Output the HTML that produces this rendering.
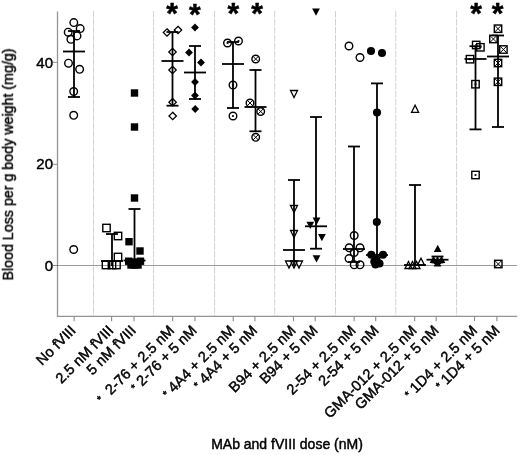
<!DOCTYPE html>
<html><head><meta charset="utf-8"><title>Blood loss</title><style>html,body{margin:0;padding:0;background:#fff}</style></head><body>
<svg width="520" height="455" viewBox="0 0 520 455" style="display:block;font-family:'Liberation Sans',sans-serif">
<defs><filter id="soft" x="0" y="0" width="100%" height="100%" filterUnits="objectBoundingBox"><feGaussianBlur stdDeviation="0.4"/></filter></defs>
<style>text{stroke:#000;stroke-width:0.45;paint-order:stroke fill}</style>
<rect width="520" height="455" fill="#fff"/>
<g filter="url(#soft)">
<rect width="520" height="455" fill="#fff"/>
<line x1="93.5" y1="11" x2="93.5" y2="316" stroke="#d2d2d2" stroke-width="1" stroke-dasharray="6.8 1.2"/>
<line x1="153.6" y1="11" x2="153.6" y2="316" stroke="#d2d2d2" stroke-width="1" stroke-dasharray="6.8 1.2"/>
<line x1="214.6" y1="11" x2="214.6" y2="316" stroke="#d2d2d2" stroke-width="1" stroke-dasharray="6.8 1.2"/>
<line x1="274.7" y1="11" x2="274.7" y2="316" stroke="#d2d2d2" stroke-width="1" stroke-dasharray="6.8 1.2"/>
<line x1="335.5" y1="11" x2="335.5" y2="316" stroke="#d2d2d2" stroke-width="1" stroke-dasharray="6.8 1.2"/>
<line x1="395.8" y1="11" x2="395.8" y2="316" stroke="#d2d2d2" stroke-width="1" stroke-dasharray="6.8 1.2"/>
<line x1="456.6" y1="11" x2="456.6" y2="316" stroke="#d2d2d2" stroke-width="1" stroke-dasharray="6.8 1.2"/>
<line x1="57.5" y1="11.5" x2="57.5" y2="316.9" stroke="#939393" stroke-width="1.25"/>
<line x1="56.9" y1="316.3" x2="517.2" y2="316.3" stroke="#939393" stroke-width="1.25"/>
<line x1="53" y1="62.3" x2="57.5" y2="62.3" stroke="#8a8a8a" stroke-width="1"/>
<text x="53" y="68.37" font-size="15" text-anchor="end" fill="#000">40</text>
<line x1="53" y1="164.3" x2="57.5" y2="164.3" stroke="#8a8a8a" stroke-width="1"/>
<text x="53" y="168.92" font-size="15" text-anchor="end" fill="#000">20</text>
<line x1="53" y1="265.5" x2="57.5" y2="265.5" stroke="#8a8a8a" stroke-width="1"/>
<text x="53" y="270.87" font-size="15" text-anchor="end" fill="#000">0</text>
<line x1="57.5" y1="265.5" x2="517.5" y2="265.5" stroke="#3a3a3a" stroke-width="1" stroke-dasharray="1 1"/>
<line x1="74.1" y1="316.3" x2="74.1" y2="321.2" stroke="#8a8a8a" stroke-width="1.1"/>
<line x1="111.6" y1="316.3" x2="111.6" y2="321.2" stroke="#8a8a8a" stroke-width="1.1"/>
<line x1="134.0" y1="316.3" x2="134.0" y2="321.2" stroke="#8a8a8a" stroke-width="1.1"/>
<line x1="172.7" y1="316.3" x2="172.7" y2="321.2" stroke="#8a8a8a" stroke-width="1.1"/>
<line x1="195.0" y1="316.3" x2="195.0" y2="321.2" stroke="#8a8a8a" stroke-width="1.1"/>
<line x1="233.2" y1="316.3" x2="233.2" y2="321.2" stroke="#8a8a8a" stroke-width="1.1"/>
<line x1="254.9" y1="316.3" x2="254.9" y2="321.2" stroke="#8a8a8a" stroke-width="1.1"/>
<line x1="293.5" y1="316.3" x2="293.5" y2="321.2" stroke="#8a8a8a" stroke-width="1.1"/>
<line x1="315.2" y1="316.3" x2="315.2" y2="321.2" stroke="#8a8a8a" stroke-width="1.1"/>
<line x1="354.1" y1="316.3" x2="354.1" y2="321.2" stroke="#8a8a8a" stroke-width="1.1"/>
<line x1="375.7" y1="316.3" x2="375.7" y2="321.2" stroke="#8a8a8a" stroke-width="1.1"/>
<line x1="414.7" y1="316.3" x2="414.7" y2="321.2" stroke="#8a8a8a" stroke-width="1.1"/>
<line x1="436.2" y1="316.3" x2="436.2" y2="321.2" stroke="#8a8a8a" stroke-width="1.1"/>
<line x1="474.5" y1="316.3" x2="474.5" y2="321.2" stroke="#8a8a8a" stroke-width="1.1"/>
<line x1="496.9" y1="316.3" x2="496.9" y2="321.2" stroke="#8a8a8a" stroke-width="1.1"/>
<text transform="translate(76.5,331.5) rotate(-45)" font-size="14.6" text-anchor="end" fill="#000" xml:space="preserve">No fVIII</text>
<text transform="translate(114.25,331.5) rotate(-45)" font-size="14.6" text-anchor="end" fill="#000" xml:space="preserve">2.5 nM fVIII</text>
<text transform="translate(136.75,331.5) rotate(-45)" font-size="14.6" text-anchor="end" fill="#000" xml:space="preserve">5 nM fVIII</text>
<text transform="translate(175.0,331.5) rotate(-45)" font-size="14.6" text-anchor="end" fill="#000" xml:space="preserve"><tspan font-size="10.5" dy="-1.5">*</tspan><tspan dy="1.5">  2-76 + 2.5 nM</tspan></text>
<text transform="translate(197.5,331.5) rotate(-45)" font-size="14.6" text-anchor="end" fill="#000" xml:space="preserve"><tspan font-size="10.5" dy="-1.5">*</tspan><tspan dy="1.5"> 2-76 + 5 nM</tspan></text>
<text transform="translate(235.5,331.5) rotate(-45)" font-size="14.6" text-anchor="end" fill="#000" xml:space="preserve"><tspan font-size="10.5" dy="-1.5">*</tspan><tspan dy="1.5"> 4A4 + 2.5 nM</tspan></text>
<text transform="translate(258.0,331.5) rotate(-45)" font-size="14.6" text-anchor="end" fill="#000" xml:space="preserve"><tspan font-size="10.5" dy="-1.5">*</tspan><tspan dy="1.5"> 4A4 + 5 nM</tspan></text>
<text transform="translate(296.5,331.5) rotate(-45)" font-size="14.6" text-anchor="end" fill="#000" xml:space="preserve">B94 + 2.5 nM</text>
<text transform="translate(318.5,331.5) rotate(-45)" font-size="14.6" text-anchor="end" fill="#000" xml:space="preserve">B94 + 5 nM</text>
<text transform="translate(356.5,331.5) rotate(-45)" font-size="14.6" text-anchor="end" fill="#000" xml:space="preserve">2-54 + 2.5 nM</text>
<text transform="translate(379.5,331.5) rotate(-45)" font-size="14.6" text-anchor="end" fill="#000" xml:space="preserve">2-54 + 5 nM</text>
<text transform="translate(417.5,331.5) rotate(-45)" font-size="14.6" text-anchor="end" fill="#000" xml:space="preserve">GMA-012 + 2.5 nM</text>
<text transform="translate(439.5,331.5) rotate(-45)" font-size="14.6" text-anchor="end" fill="#000" xml:space="preserve">GMA-012 + 5 nM</text>
<text transform="translate(478.0,331.5) rotate(-45)" font-size="14.6" text-anchor="end" fill="#000" xml:space="preserve"><tspan font-size="10.5" dy="-1.5">*</tspan><tspan dy="1.5"> 1D4 + 2.5 nM</tspan></text>
<text transform="translate(500.5,331.5) rotate(-45)" font-size="14.6" text-anchor="end" fill="#000" xml:space="preserve"><tspan font-size="10.5" dy="-1.5">*</tspan><tspan dy="1.5"> 1D4 + 5 nM</tspan></text>
<text x="287" y="449" font-size="14" text-anchor="middle" fill="#000">MAb and fVIII dose (nM)</text>
<text transform="translate(12.9,164.5) rotate(-90)" font-size="14.25" text-anchor="middle" fill="#000">Blood Loss per g body weight (mg/g)</text>
<g stroke="#000" stroke-width="1.8" fill="none">
<line x1="74" y1="31" x2="74" y2="97"/>
<line x1="68.0" y1="31" x2="80.0" y2="31"/>
<line x1="68.0" y1="97" x2="80.0" y2="97"/>
<line x1="63.0" y1="51.5" x2="85.0" y2="51.5"/>
</g>
<circle cx="73.8" cy="22.6" r="3.8" fill="none" stroke="#000" stroke-width="1.4"/>
<circle cx="80.2" cy="28.6" r="3.8" fill="none" stroke="#000" stroke-width="1.4"/>
<circle cx="68.2" cy="32.2" r="3.8" fill="none" stroke="#000" stroke-width="1.4"/>
<circle cx="77" cy="35.9" r="3.8" fill="none" stroke="#000" stroke-width="1.4"/>
<circle cx="70.9" cy="39.3" r="3.8" fill="none" stroke="#000" stroke-width="1.4"/>
<circle cx="68.5" cy="63.2" r="3.8" fill="none" stroke="#000" stroke-width="1.4"/>
<circle cx="79.6" cy="69.3" r="3.8" fill="none" stroke="#000" stroke-width="1.4"/>
<circle cx="73.7" cy="91.5" r="3.8" fill="none" stroke="#000" stroke-width="1.4"/>
<circle cx="73.7" cy="115.3" r="3.8" fill="none" stroke="#000" stroke-width="1.4"/>
<circle cx="73.7" cy="249.5" r="3.8" fill="none" stroke="#000" stroke-width="1.4"/>
<g stroke="#000" stroke-width="1.8" fill="none">
<line x1="112" y1="234" x2="112" y2="266"/>
<line x1="106.0" y1="234" x2="118.0" y2="234"/>
<line x1="101.0" y1="261" x2="123.0" y2="261"/>
</g>
<rect x="102.80" y="224.30" width="7.4" height="7.4" fill="none" stroke="#000" stroke-width="1.4"/>
<rect x="114.30" y="232.30" width="7.4" height="7.4" fill="none" stroke="#000" stroke-width="1.4"/>
<rect x="114.30" y="253.30" width="7.4" height="7.4" fill="none" stroke="#000" stroke-width="1.4"/>
<rect x="102.30" y="261.30" width="7.4" height="7.4" fill="none" stroke="#000" stroke-width="1.4"/>
<rect x="108.30" y="261.30" width="7.4" height="7.4" fill="none" stroke="#000" stroke-width="1.4"/>
<rect x="112.80" y="261.30" width="7.4" height="7.4" fill="none" stroke="#000" stroke-width="1.4"/>
<g stroke="#000" stroke-width="1.8" fill="none">
<line x1="134.5" y1="209" x2="134.5" y2="266"/>
<line x1="128.5" y1="209" x2="140.5" y2="209"/>
<line x1="123.5" y1="260.5" x2="145.5" y2="260.5"/>
</g>
<rect x="130.80" y="89.30" width="7.4" height="7.4" fill="#000"/>
<rect x="130.80" y="123.30" width="7.4" height="7.4" fill="#000"/>
<rect x="130.80" y="194.30" width="7.4" height="7.4" fill="#000"/>
<rect x="125.30" y="238.00" width="7.4" height="7.4" fill="#000"/>
<rect x="136.30" y="247.30" width="7.4" height="7.4" fill="#000"/>
<rect x="125.00" y="257.50" width="7.4" height="7.4" fill="#000"/>
<rect x="136.80" y="257.50" width="7.4" height="7.4" fill="#000"/>
<rect x="130.80" y="258.30" width="7.4" height="7.4" fill="#000"/>
<rect x="127.30" y="261.30" width="7.4" height="7.4" fill="#000"/>
<rect x="134.30" y="261.30" width="7.4" height="7.4" fill="#000"/>
<rect x="130.80" y="261.30" width="7.4" height="7.4" fill="#000"/>
<text x="172" y="22.6" font-size="30" font-weight="bold" text-anchor="middle" fill="#000">*</text>
<g stroke="#000" stroke-width="1.8" fill="none">
<line x1="172.5" y1="32" x2="172.5" y2="105.7"/>
<line x1="166.5" y1="32" x2="178.5" y2="32"/>
<line x1="166.5" y1="105.7" x2="178.5" y2="105.7"/>
<line x1="161.5" y1="61" x2="183.5" y2="61"/>
</g>
<path d="M167 28.8L170.7 32.5L167 36.2L163.3 32.5Z" fill="none" stroke="#000" stroke-width="1.3"/>
<path d="M178 26.3L181.7 30L178 33.7L174.3 30Z" fill="none" stroke="#000" stroke-width="1.3"/>
<path d="M172.5 48.3L176.2 52L172.5 55.7L168.8 52Z" fill="none" stroke="#000" stroke-width="1.3"/>
<path d="M172.5 66.3L176.2 70L172.5 73.7L168.8 70Z" fill="none" stroke="#000" stroke-width="1.3"/>
<path d="M172.6 98.5L176.29999999999998 102.2L172.6 105.9L168.9 102.2Z" fill="none" stroke="#000" stroke-width="1.3"/>
<path d="M172.7 112.3L176.39999999999998 116L172.7 119.7L169.0 116Z" fill="none" stroke="#000" stroke-width="1.3"/>
<text x="194.8" y="24.1" font-size="30" font-weight="bold" text-anchor="middle" fill="#000">*</text>
<g stroke="#000" stroke-width="1.8" fill="none">
<line x1="195" y1="46" x2="195" y2="99"/>
<line x1="189.0" y1="46" x2="201.0" y2="46"/>
<line x1="189.0" y1="99" x2="201.0" y2="99"/>
<line x1="184.0" y1="72.5" x2="206.0" y2="72.5"/>
</g>
<path d="M195 23.6L198.9 27.5L195 31.4L191.1 27.5Z" fill="#000"/>
<path d="M189 48.6L192.9 52.5L189 56.4L185.1 52.5Z" fill="#000"/>
<path d="M201 58.6L204.9 62.5L201 66.4L197.1 62.5Z" fill="#000"/>
<path d="M195 78.1L198.9 82L195 85.9L191.1 82Z" fill="#000"/>
<path d="M195 91.6L198.9 95.5L195 99.4L191.1 95.5Z" fill="#000"/>
<path d="M195.2 105.1L199.1 109L195.2 112.9L191.29999999999998 109Z" fill="#000"/>
<text x="233.4" y="22.6" font-size="30" font-weight="bold" text-anchor="middle" fill="#000">*</text>
<g stroke="#000" stroke-width="1.8" fill="none">
<line x1="233" y1="42" x2="233" y2="108"/>
<line x1="227.0" y1="42" x2="239.0" y2="42"/>
<line x1="227.0" y1="108" x2="239.0" y2="108"/>
<line x1="222.0" y1="64" x2="244.0" y2="64"/>
</g>
<circle cx="227.5" cy="43" r="3.8" fill="none" stroke="#000" stroke-width="1.4"/>
<circle cx="227.5" cy="43" r="1.1" fill="#000"/>
<circle cx="238.5" cy="41" r="3.8" fill="none" stroke="#000" stroke-width="1.4"/>
<circle cx="238.5" cy="41" r="1.1" fill="#000"/>
<circle cx="233" cy="85" r="3.8" fill="none" stroke="#000" stroke-width="1.4"/>
<circle cx="233" cy="85" r="1.1" fill="#000"/>
<circle cx="233" cy="116" r="3.8" fill="none" stroke="#000" stroke-width="1.4"/>
<circle cx="233" cy="116" r="1.1" fill="#000"/>
<text x="257" y="22.6" font-size="30" font-weight="bold" text-anchor="middle" fill="#000">*</text>
<g stroke="#000" stroke-width="1.8" fill="none">
<line x1="255.5" y1="70" x2="255.5" y2="131.3"/>
<line x1="249.5" y1="70" x2="261.5" y2="70"/>
<line x1="249.5" y1="131.3" x2="261.5" y2="131.3"/>
<line x1="244.5" y1="107" x2="266.5" y2="107"/>
</g>
<circle cx="255.7" cy="59" r="3.8" fill="none" stroke="#000" stroke-width="1.4"/>
<path d="M253.01 56.31L258.39 61.69M253.01 61.69L258.39 56.31" stroke="#000" stroke-width="1"/>
<circle cx="250" cy="103" r="3.8" fill="none" stroke="#000" stroke-width="1.4"/>
<path d="M247.31 100.31L252.69 105.69M247.31 105.69L252.69 100.31" stroke="#000" stroke-width="1"/>
<circle cx="260.7" cy="111.5" r="3.8" fill="none" stroke="#000" stroke-width="1.4"/>
<path d="M258.01 108.81L263.39 114.19M258.01 114.19L263.39 108.81" stroke="#000" stroke-width="1"/>
<circle cx="255.7" cy="137.3" r="3.8" fill="none" stroke="#000" stroke-width="1.4"/>
<path d="M253.01 134.61L258.39 139.99M253.01 139.99L258.39 134.61" stroke="#000" stroke-width="1"/>
<g stroke="#000" stroke-width="1.8" fill="none">
<line x1="294" y1="180" x2="294" y2="266"/>
<line x1="288.0" y1="180" x2="300.0" y2="180"/>
<line x1="283.0" y1="250" x2="305.0" y2="250"/>
</g>
<path d="M290.5 90.5L297.5 90.5L294 97.5Z" fill="none" stroke="#000" stroke-width="1.3"/>
<path d="M290.5 205.5L297.5 205.5L294 212.5Z" fill="none" stroke="#000" stroke-width="1.3"/>
<path d="M290.5 230.5L297.5 230.5L294 237.5Z" fill="none" stroke="#000" stroke-width="1.3"/>
<path d="M285.5 261.0L292.5 261.0L289 268.0Z" fill="none" stroke="#000" stroke-width="1.3"/>
<path d="M290.5 261.0L297.5 261.0L294 268.0Z" fill="none" stroke="#000" stroke-width="1.3"/>
<path d="M295.5 261.0L302.5 261.0L299 268.0Z" fill="none" stroke="#000" stroke-width="1.3"/>
<g stroke="#000" stroke-width="1.8" fill="none">
<line x1="316" y1="117" x2="316" y2="248.7"/>
<line x1="310.0" y1="117" x2="322.0" y2="117"/>
<line x1="310.0" y1="248.7" x2="322.0" y2="248.7"/>
<line x1="305.0" y1="226.3" x2="327.0" y2="226.3"/>
</g>
<path d="M312.1 8.4L319.9 8.4L316 15.7Z" fill="#000"/>
<path d="M312.6 217.6L320.4 217.6L316.5 224.89999999999998Z" fill="#000"/>
<path d="M306.40000000000003 221.70000000000002L314.2 221.70000000000002L310.3 229.0Z" fill="#000"/>
<path d="M318.0 233.9L325.79999999999995 233.9L321.9 241.2Z" fill="#000"/>
<path d="M312.6 255.20000000000002L320.4 255.20000000000002L316.5 262.5Z" fill="#000"/>
<g stroke="#000" stroke-width="1.8" fill="none">
<line x1="354" y1="146.5" x2="354" y2="262"/>
<line x1="348.0" y1="146.5" x2="360.0" y2="146.5"/>
<line x1="348.0" y1="262" x2="360.0" y2="262"/>
<line x1="343.0" y1="249" x2="365.0" y2="249"/>
</g>
<circle cx="349" cy="46" r="3.8" fill="none" stroke="#000" stroke-width="1.4"/>
<circle cx="360" cy="57.5" r="3.8" fill="none" stroke="#000" stroke-width="1.4"/>
<circle cx="354.2" cy="235.5" r="3.8" fill="none" stroke="#000" stroke-width="1.4"/>
<circle cx="349.2" cy="247.8" r="3.8" fill="none" stroke="#000" stroke-width="1.4"/>
<circle cx="360" cy="247.8" r="3.8" fill="none" stroke="#000" stroke-width="1.4"/>
<circle cx="354.2" cy="252.5" r="3.8" fill="none" stroke="#000" stroke-width="1.4"/>
<circle cx="349" cy="258.6" r="3.8" fill="none" stroke="#000" stroke-width="1.4"/>
<circle cx="354.2" cy="264.8" r="3.8" fill="none" stroke="#000" stroke-width="1.4"/>
<circle cx="360" cy="264.8" r="3.8" fill="none" stroke="#000" stroke-width="1.4"/>
<g stroke="#000" stroke-width="1.8" fill="none">
<line x1="377" y1="83.4" x2="377" y2="262"/>
<line x1="371.0" y1="83.4" x2="383.0" y2="83.4"/>
<line x1="371.0" y1="262" x2="383.0" y2="262"/>
<line x1="366.0" y1="255" x2="388.0" y2="255"/>
</g>
<circle cx="371" cy="51" r="4.05" fill="#000"/>
<circle cx="382" cy="53" r="4.05" fill="#000"/>
<circle cx="377" cy="112.5" r="4.05" fill="#000"/>
<circle cx="376.8" cy="222" r="4.05" fill="#000"/>
<circle cx="371.3" cy="254.7" r="4.05" fill="#000"/>
<circle cx="383" cy="254.7" r="4.05" fill="#000"/>
<circle cx="376.5" cy="259.5" r="4.05" fill="#000"/>
<circle cx="374.3" cy="261.5" r="4.05" fill="#000"/>
<circle cx="379.5" cy="263.5" r="4.05" fill="#000"/>
<circle cx="375.5" cy="264.5" r="4.05" fill="#000"/>
<g stroke="#000" stroke-width="1.8" fill="none">
<line x1="415" y1="185" x2="415" y2="266"/>
<line x1="409.0" y1="185" x2="421.0" y2="185"/>
<line x1="404.0" y1="265" x2="426.0" y2="265"/>
</g>
<path d="M411.6 112.3L418.6 112.3L415.1 105.3Z" fill="none" stroke="#000" stroke-width="1.3"/>
<path d="M405.0 268.5L412.0 268.5L408.5 261.5Z" fill="none" stroke="#000" stroke-width="1.3"/>
<path d="M409.0 268.5L416.0 268.5L412.5 261.5Z" fill="none" stroke="#000" stroke-width="1.3"/>
<path d="M413.0 268.5L420.0 268.5L416.5 261.5Z" fill="none" stroke="#000" stroke-width="1.3"/>
<path d="M417.5 265.1L424.5 265.1L421 258.1Z" fill="none" stroke="#000" stroke-width="1.3"/>
<g stroke="#000" stroke-width="1.8" fill="none">
<line x1="437.5" y1="256.5" x2="437.5" y2="262.5"/>
<line x1="431.5" y1="256.5" x2="443.5" y2="256.5"/>
<line x1="431.5" y1="262.5" x2="443.5" y2="262.5"/>
<line x1="426.5" y1="259.7" x2="448.5" y2="259.7"/>
</g>
<path d="M433.8 252.0L441.59999999999997 252.0L437.7 244.70000000000002Z" fill="#000"/>
<path d="M429.6 263.1L437.4 263.1L433.5 255.8Z" fill="#000"/>
<path d="M437.6 263.1L445.4 263.1L441.5 255.8Z" fill="#000"/>
<path d="M433.6 264.1L441.4 264.1L437.5 256.8Z" fill="#000"/>
<path d="M433.6 266.6L441.4 266.6L437.5 259.3Z" fill="#000"/>
<text x="476.2" y="22.6" font-size="30" font-weight="bold" text-anchor="middle" fill="#000">*</text>
<g stroke="#000" stroke-width="1.8" fill="none">
<line x1="475.5" y1="46.2" x2="475.5" y2="129.4"/>
<line x1="469.5" y1="46.2" x2="481.5" y2="46.2"/>
<line x1="469.5" y1="129.4" x2="481.5" y2="129.4"/>
<line x1="464.5" y1="59" x2="486.5" y2="59"/>
</g>
<rect x="472.50" y="41.30" width="7.4" height="7.4" fill="none" stroke="#000" stroke-width="1.4"/>
<circle cx="476.2" cy="45" r="1.1" fill="#000"/>
<rect x="476.70" y="43.60" width="7.4" height="7.4" fill="none" stroke="#000" stroke-width="1.4"/>
<circle cx="480.4" cy="47.3" r="1.1" fill="#000"/>
<rect x="466.30" y="55.50" width="7.4" height="7.4" fill="none" stroke="#000" stroke-width="1.4"/>
<circle cx="470" cy="59.2" r="1.1" fill="#000"/>
<rect x="471.80" y="80.50" width="7.4" height="7.4" fill="none" stroke="#000" stroke-width="1.4"/>
<circle cx="475.5" cy="84.2" r="1.1" fill="#000"/>
<rect x="471.80" y="171.30" width="7.4" height="7.4" fill="none" stroke="#000" stroke-width="1.4"/>
<circle cx="475.5" cy="175" r="1.1" fill="#000"/>
<text x="497.6" y="22.6" font-size="30" font-weight="bold" text-anchor="middle" fill="#000">*</text>
<g stroke="#000" stroke-width="1.8" fill="none">
<line x1="498" y1="35.5" x2="498" y2="127"/>
<line x1="492.0" y1="35.5" x2="504.0" y2="35.5"/>
<line x1="492.0" y1="127" x2="504.0" y2="127"/>
<line x1="487.0" y1="56.5" x2="509.0" y2="56.5"/>
</g>
<rect x="494.30" y="25.00" width="7.4" height="7.4" fill="none" stroke="#000" stroke-width="1.4"/>
<path d="M494.30 25.00L501.70 32.40M494.30 32.40L501.70 25.00" stroke="#000" stroke-width="1"/>
<rect x="489.70" y="35.30" width="7.4" height="7.4" fill="none" stroke="#000" stroke-width="1.4"/>
<path d="M489.70 35.30L497.10 42.70M489.70 42.70L497.10 35.30" stroke="#000" stroke-width="1"/>
<rect x="499.70" y="45.80" width="7.4" height="7.4" fill="none" stroke="#000" stroke-width="1.4"/>
<path d="M499.70 45.80L507.10 53.20M499.70 53.20L507.10 45.80" stroke="#000" stroke-width="1"/>
<rect x="494.30" y="59.30" width="7.4" height="7.4" fill="none" stroke="#000" stroke-width="1.4"/>
<path d="M494.30 59.30L501.70 66.70M494.30 66.70L501.70 59.30" stroke="#000" stroke-width="1"/>
<rect x="494.30" y="78.10" width="7.4" height="7.4" fill="none" stroke="#000" stroke-width="1.4"/>
<path d="M494.30 78.10L501.70 85.50M494.30 85.50L501.70 78.10" stroke="#000" stroke-width="1"/>
<rect x="494.60" y="260.30" width="7.4" height="7.4" fill="none" stroke="#000" stroke-width="1.4"/>
<path d="M494.60 260.30L502.00 267.70M494.60 267.70L502.00 260.30" stroke="#000" stroke-width="1"/>
</g>
</svg>
</body></html>
